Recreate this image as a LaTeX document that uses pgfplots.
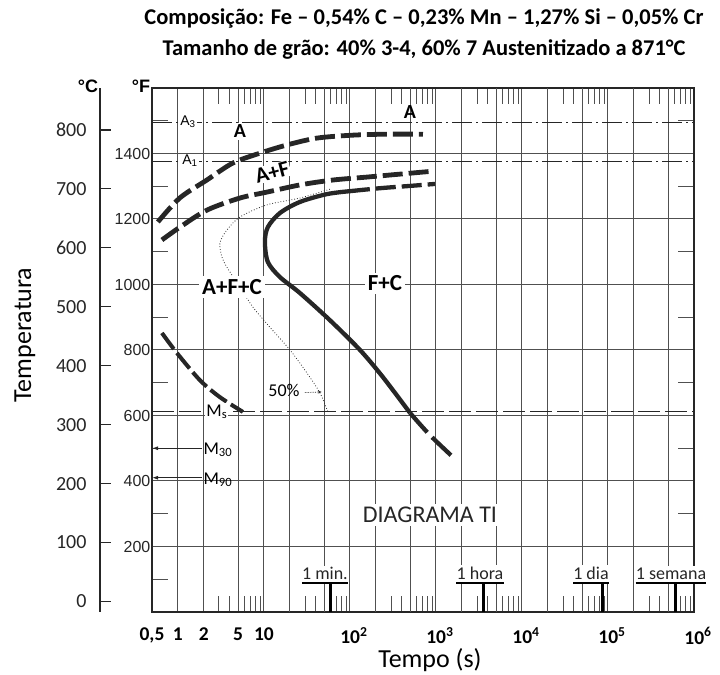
\documentclass[border=0pt]{standalone}
\usepackage{fontspec}
\setmainfont{Carlito}
\newfontfamily\lib{Liberation Sans}
\usepackage{pgfplots}
\pgfplotsset{compat=1.18}
\usetikzlibrary{arrows.meta}

\definecolor{ink}{HTML}{262626}
\definecolor{gridc}{HTML}{505050}
\newcommand\fs[1]{\fontsize{#1bp}{#1bp}\selectfont}
\newcommand\dec[1]{\hspace{8bp}10\textsuperscript{#1}}

\begin{document}
\begin{tikzpicture}
\useasboundingbox (0,0) rectangle (720bp,675bp);

% titles and axis names
\node[font=\fs{22.5}\bfseries] at (424bp,656bp) {Composição: Fe – 0,54\% C – 0,23\% Mn – 1,27\% Si – 0,05\% Cr};
\node[font=\fs{22.5}\bfseries] at (424bp,625bp) {Tamanho de grão: 40\% 3-4, 60\% 7 Austenitizado a 871°C};
\node[font=\fs{26}, rotate=90] at (25bp,340bp) {Temperatura};
\node[font=\fs{26}] at (430bp,15bp) {Tempo (s)};
\node[font=\lib\fs{18}\bfseries] at (88bp,589bp) {°C};
\node[font=\lib\fs{18}\bfseries] at (141bp,589bp) {°F};

% Celsius scale
\begin{axis}[
  at={(100bp,63bp)}, anchor=south west,
  scale only axis, width=542bp, height=524bp,
  xmin=0, xmax=1, ymin=-17.78, ymax=871.11,
  hide x axis,
  axis y line*=left,
  y axis line style={-, line width=1.3bp, ink},
  ytick={0,100,200,300,400,500,600,700,800},
  yticklabels={0,100,200,300,400,500,600,700,800},
  tick align=inside,
  major tick length=11bp,
  tick style={line width=1.2bp, ink},
  yticklabel style={font=\fs{20}, text=ink, xshift=-10bp},
]
\addplot[draw=none] coordinates {(0,0)};
\end{axis}

% Fahrenheit chart
\begin{axis}[
  at={(152bp,63bp)}, anchor=south west,
  scale only axis, width=542bp, height=524bp,
  xmode=log, xmin=0.5, xmax=1e6, ymin=0, ymax=1600,
  clip=false,
  axis line style={line width=1.5bp, ink},
  xtick={0.5,1,2,5,10,100,1000,10000,100000,1000000},
  xticklabels={{0,5},1,2,5,10,{\dec{2}},{\dec{3}},{\dec{4}},{\dec{5}},{\dec{6}}},
  extra x ticks={20,50,200,500,2000,5000,20000,50000,200000,500000},
  extra x tick labels={},
  minor xtick={3,4,6,7,8,9,30,40,60,70,80,90,300,400,600,700,800,900,3000,4000,6000,7000,8000,9000,30000,40000,60000,70000,80000,90000,300000,400000,600000,700000,800000,900000},
  ytick={200,400,600,800,1000,1200,1400},
  yticklabels={200,400,600,800,1000,1200,1400},
  minor ytick={100,300,500,700,900,1100,1300,1500},
  grid=major,
  major grid style={line width=1bp, gridc},
  tick align=inside,
  major tick length=0bp,
  minor tick length=16bp,
  minor tick style={line width=0.9bp, gridc},
  xticklabel style={font=\fs{19.5}\bfseries, yshift=-12bp},
  yticklabel style={font=\lib\fs{16}, text=ink, inner sep=1.5bp},
]
% critical lines
\addplot[ink, line width=1.1bp, dash pattern=on 20bp off 4bp on 2bp off 4bp] coordinates {(0.5,1495) (1e6,1495)};
\addplot[ink, line width=1.1bp, dash pattern=on 20bp off 4bp on 2bp off 4bp] coordinates {(0.5,1375) (1e6,1375)};
\addplot[ink, line width=1.2bp, dash pattern=on 22bp off 5bp] coordinates {(0.5,612) (1e6,612)};
\addplot[ink, line width=1bp, -{Latex[length=6bp,width=4bp]}] coordinates {(1.9,500) (0.5,500)};
\addplot[ink, line width=1bp, -{Latex[length=6bp,width=4bp]}] coordinates {(1.9,410) (0.5,410)};

% 50% transformation
\addplot[ink, line width=0.8bp, dotted, smooth] coordinates {
 (58.5,1291) (26.2,1264) (10.8,1243) (5.26,1206) (3.71,1166) (3.08,1127) (3.25,1084)
 (3.71,1053) (5.26,992) (7.45,931) (11.7,870) (20.1,800) (31.6,730) (44.8,669) (55.5,611)};
\addplot[ink, line width=0.7bp, densely dotted, -{Stealth[length=4bp]}] coordinates {(30,670) (47,672)};

% ferrite start
\addplot[ink, line width=4.8bp, dash pattern=on 20bp off 6bp, smooth] coordinates {
 (0.585,1191) (1.05,1264) (2.17,1319) (4.36,1371) (8.98,1401) (18.5,1426) (41.3,1447) (108,1456) (269,1459) (707,1459)};
% carbide start
\addplot[ink, line width=4.8bp, dash pattern=on 20bp off 6bp, smooth] coordinates {
 (0.652,1136) (1.055,1175) (2.17,1227) (5.26,1264) (10.8,1282) (26.2,1304) (63.4,1319) (158,1328) (381,1337) (923,1346)};
% end of transformation
\addplot[ink, line width=4.3bp, dash pattern=on 20bp off 6bp, smooth] coordinates {
 (100,1285) (223,1294) (499,1301) (973,1307)};
\addplot[ink, line width=4.3bp, smooth] coordinates {
 (100,1285) (54.1,1276) (26.2,1252) (15.3,1218) (11.1,1175) (10.27,1130) (11.1,1069)
 (15.3,1023) (26.2,974) (58.5,891) (131,800) (242,717) (499,608)};
\addplot[ink, line width=4.3bp, dash pattern=on 26bp off 7bp, smooth] coordinates {
 (499,608) (851,540) (1577,473)};
% lower left curve
\addplot[ink, line width=4bp, dash pattern=on 20bp off 5bp, smooth] coordinates {
 (0.652,852) (0.973,791) (1.8,708) (3.08,656) (5.7,611)};

% time marks
\addplot[black, line width=3bp] coordinates {(60,0) (60,88)};
\addplot[black, line width=3bp] coordinates {(3600,0) (3600,88)};
\addplot[black, line width=3bp] coordinates {(86400,0) (86400,88)};
\addplot[black, line width=3bp] coordinates {(604800,0) (604800,88)};

% labels
\node[fill=white, inner sep=2bp, font=\fs{20}\bfseries] at (axis cs:5.26,1468) {A};
\node[inner sep=2bp, font=\fs{20}\bfseries] at (axis cs:499,1527) {A};
\node[fill=white, inner sep=1bp, font=\fs{22}\bfseries, rotate=15] at (axis cs:12.5,1343) {A+F};
\node[fill=white, inner sep=3bp, font=\fs{23}\bfseries] at (axis cs:4.25,992) {A+F+C};
\node[fill=white, inner sep=3bp, font=\fs{23}\bfseries] at (axis cs:255,1004) {F+C};
\node[fill=white, inner sep=3bp, font=\fs{24}, text=ink] at (axis cs:851,296) {DIAGRAMA TI};
\node[fill=white, inner sep=1bp, font=\lib\fs{14}] at (axis cs:1.31,1496) {A\textsubscript{3}};
\node[fill=white, inner sep=1bp, font=\lib\fs{14}] at (axis cs:1.38,1377) {A\textsubscript{1}};
\node[fill=white, inner sep=1bp, font=\fs{18}] at (axis cs:2.84,612) {M\textsubscript{s}};
\node[inner sep=1bp, font=\fs{18}] at (axis cs:2.92,495) {M\textsubscript{30}};
\node[inner sep=1bp, font=\fs{18}] at (axis cs:2.92,404) {M\textsubscript{90}};
\node[font=\fs{18}] at (axis cs:17.1,675) {50\%};

\node[fill=white, inner xsep=0bp, inner ysep=2bp, font=\fs{18}, text=ink, anchor=base] (t1) at (axis cs:51.2,98) {1 min.};
\node[fill=white, inner xsep=0bp, inner ysep=2bp, font=\fs{18}, text=ink, anchor=base] (t2) at (axis cs:3250,98) {1 hora};
\node[fill=white, inner xsep=0bp, inner ysep=2bp, font=\fs{18}, text=ink, anchor=base] (t3) at (axis cs:63400,98) {1 dia};
\node[fill=white, inner xsep=0bp, inner ysep=2bp, font=\fs{18}, text=ink, anchor=base] (t4) at (axis cs:540000,98) {1 semana};
\draw[black, line width=1.6bp] ([yshift=-3bp]t1.base west) -- ([yshift=-3bp]t1.base east);
\draw[black, line width=1.6bp] ([yshift=-3bp]t2.base west) -- ([yshift=-3bp]t2.base east);
\draw[black, line width=1.6bp] ([yshift=-3bp]t3.base west) -- ([yshift=-3bp]t3.base east);
\draw[black, line width=1.6bp] ([yshift=-3bp]t4.base west) -- ([yshift=-3bp]t4.base east);
\end{axis}
\end{tikzpicture}
\end{document}
